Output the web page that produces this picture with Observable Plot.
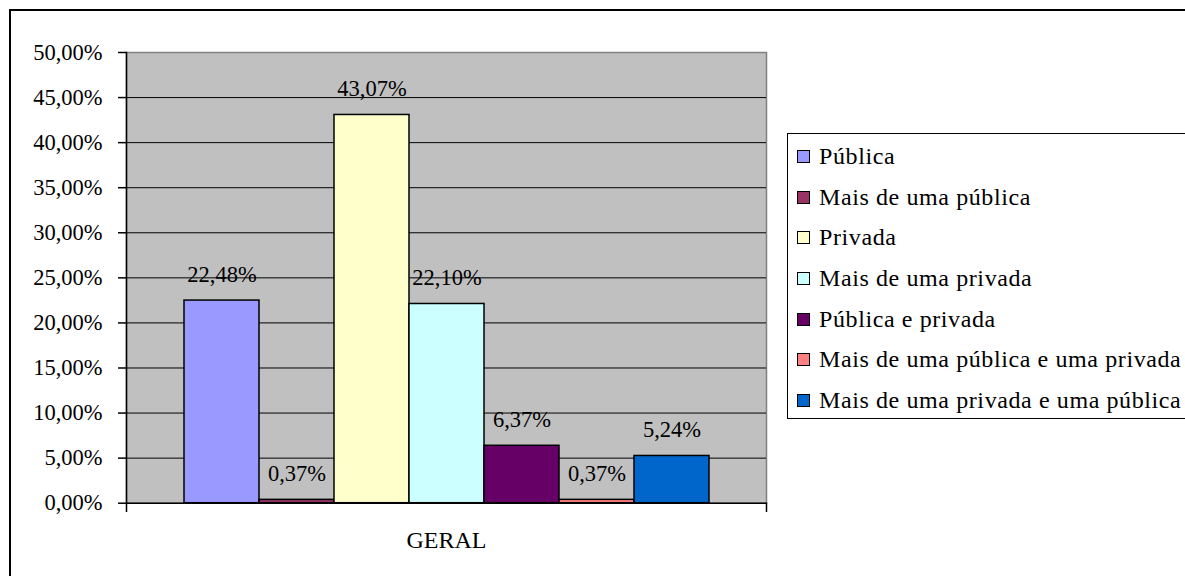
<!DOCTYPE html>
<html>
<head>
<meta charset="utf-8">
<script src="https://cdn.jsdelivr.net/npm/d3@7"></script>
<script src="https://cdn.jsdelivr.net/npm/@observablehq/plot@0.6"></script>
<style>
  html, body { margin: 0; padding: 0; background: #fff; overflow: hidden; }
  #page { position: relative; width: 1185px; height: 576px; overflow: hidden; }
  #border { position: absolute; left: 9px; top: 9px; width: 1300px; height: 700px;
            border-left: 2px solid #000; border-top: 2px solid #000; box-sizing: border-box; }
  #chart { position: absolute; left: 0; top: 0; }
  #legend { position: absolute; left: 787px; top: 133px; width: 500px; height: 286px;
            border: 1.5px solid #000; box-sizing: border-box; background: #fff;
            font-family: "Liberation Serif", Tinos, "Times New Roman", Times, serif; font-size: 24px;
            letter-spacing: 0.6px; color: #000; padding-top: 2px; }
  .row { height: 40.7px; display: flex; align-items: center; white-space: nowrap; }
  .sw { width: 13px; height: 13px; border: 1.5px solid #000; box-sizing: border-box;
        margin-left: 9px; margin-right: 9px; flex: none; }
</style>
</head>
<body>
<div id="page">
  <div id="border"></div>
  <div id="chart"></div>
  <div id="legend"></div>
</div>
<script>
const series = [
  "Pública",
  "Mais de uma pública",
  "Privada",
  "Mais de uma privada",
  "Pública e privada",
  "Mais de uma pública e uma privada",
  "Mais de uma privada e uma pública"
];
const values = [22.48, 0.37, 43.07, 22.10, 6.37, 0.37, 5.24];
const colors = ["#9999FF", "#993366", "#FFFFCC", "#CCFFFF", "#660066", "#FF8080", "#0066CC"];
const group = "GERAL";
const yTicks = [0, 5, 10, 15, 20, 25, 30, 35, 40, 45, 50];

const fmt = v => v.toFixed(2).replace(".", ",") + "%";
const data = series.map((s, i) => ({group, series: s, value: values[i]}));

const W = 1185, H = 576;
const mTop = 52, mBottom = 73.3, mLeft = 126, mRight = 419;
const plotH = H - mTop - mBottom;
const serif = "'Liberation Serif', Tinos, 'Times New Roman', Times, serif";

const chart = Plot.plot({
  width: W,
  height: H,
  marginTop: mTop,
  marginBottom: mBottom,
  marginLeft: mLeft,
  marginRight: mRight,
  style: {fontFamily: serif, fontSize: "22px", color: "#000", background: "transparent", overflow: "visible"},
  fx: {domain: [group], padding: 0, label: null},
  x: {domain: series, paddingInner: 0, paddingOuter: 0.75, axis: null},
  y: {domain: [0, 50], axis: null},
  color: {domain: series, range: colors},
  marks: [
    Plot.frame({fill: "#C0C0C0", stroke: "#808080", strokeWidth: 1.5}),
    Plot.gridY(yTicks.filter(t => t > 0 && t < 50), {stroke: "#000", strokeOpacity: 1, strokeWidth: 1}),
    Plot.barY(data, {fx: "group", x: "series", y: "value", fill: "series", stroke: "#000", strokeWidth: 1.5}),
    Plot.text(data, {fx: "group", x: "series", y: "value", text: d => fmt(d.value), dy: -26, lineAnchor: "middle", fontSize: 22.5, fill: "#000", fontFamily: serif}),
    Plot.ruleY([0], {stroke: "#000", strokeWidth: 1.5}),
    Plot.frame({anchor: "left", stroke: "#000", strokeWidth: 1.5, insetBottom: -8}),
    Plot.frame({anchor: "right", stroke: "#000", strokeWidth: 1.5, insetTop: plotH, insetBottom: -8}),
    Plot.axisY({ticks: yTicks, tickFormat: fmt, tickSize: 8, tickPadding: 16, fontSize: 22.5, fontFamily: serif, stroke: "#000", strokeWidth: 1.5, label: null}),
    Plot.axisFx({anchor: "bottom", tickSize: 0, tickPadding: 28, fontSize: 24, fontFamily: serif, label: null})
  ]
});
document.getElementById("chart").appendChild(chart);

const legend = document.getElementById("legend");
series.forEach((s, i) => {
  const row = document.createElement("div");
  row.className = "row";
  const sw = document.createElement("span");
  sw.className = "sw";
  sw.style.background = colors[i];
  const t = document.createElement("span");
  t.textContent = s;
  row.appendChild(sw);
  row.appendChild(t);
  legend.appendChild(row);
});
</script>
</body>
</html>
